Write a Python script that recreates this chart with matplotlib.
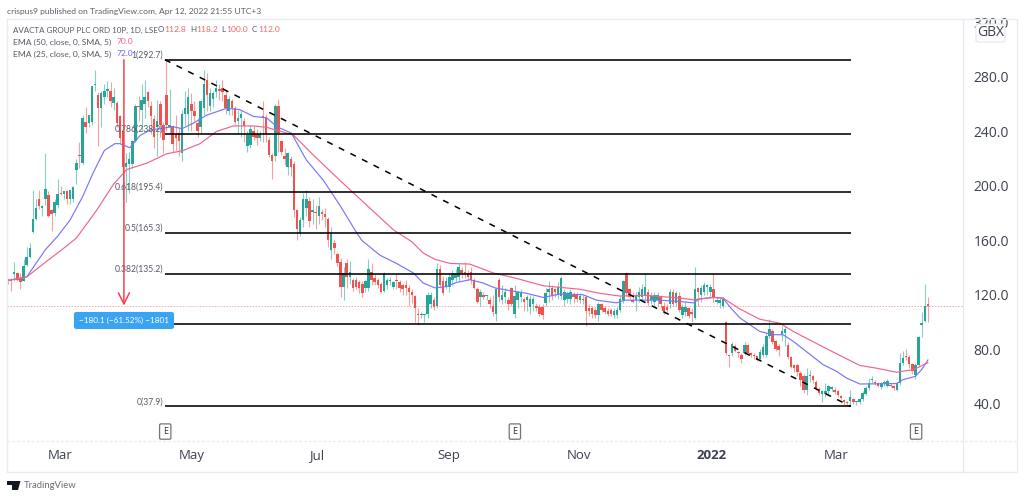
import numpy as np
import matplotlib
matplotlib.use("Agg")
import matplotlib.pyplot as plt
from matplotlib.lines import Line2D
from matplotlib.patches import FancyBboxPatch, Polygon, Rectangle

W, H = 1024, 497
plt.rcParams['font.family'] = ['Open Sans', 'DejaVu Sans']
SMALL = ['Lato', 'DejaVu Sans']

opens = [
    131,131,135,136,132,130,142,148,166,176,
    190,184,190,193,182,180,186,195,194,196,
    190,190,212,223,217,247,246,247,274,267,
    257,265,270,270,261,261,251,240,214,216,
    216,233,259,256,260,269,259,249,243,260,
    245,267,243,244,238,239,224,253,253,260,
    255,246,243,257,278,259,264,269,271,272,
    267,255,262,257,248,250,248,229,230,240,
    238,235,251,250,234,223,222,259,233,222,
    214,220,216,182,165,175,184,189,181,181,
    178,181,179,176,153,158,150,144,
    126,143,133,131,131,129,128,125,125,137,
    132,131,128,123,127,130,126,131,129,127,
    127,125,122,119,106,105,105,106,113,116,
    112,139,130,126,126,131,132,133,138,137,
    136,137,131,124,118,120,119,116,112,106,
    131,116,118,116,125,106,116,118,117,116,
    111,113,112,111,111,114,122,125,124,120,
    119,116,117,117,120,120,116,117,118,110,
    110,109,105,113,110,108,109,105,105,109,
    116,136,124,116,116,118,118,120,122,116,
    115,116,118,112,111,113,122,114,119,
    105,107,110,107,103,125,120,122,126,122,
    124,115,114,112,100,76,77,82,78,76,
    77,83,77,76,75,73,76,76,90,93,
    86,82,91,92,83,74,68,68,62.5,60,
    50,60,60.5,55.6,51,47,47,49,51,50,
    49,45.4,42.4,41,41.7,43,41,41,43,47,
    51.5,57,55.6,55,52,55,53,54,53,50,
    55,70,75,74,69,61,68,98,101,112.8,
]
highs = [
    132,132,144,137,136,146,155,158,197,190,
    197,186,224,196,183,190,205,200,196,197,
    197,200,220,232,252,258,252,273,285,269,
    270,275,277,276,272,262,252,241,224,225,
    234,260,266,275,278,270,262,252,263,262,
    247,292.7,271,245,252,243,256,270,272,268,
    262,250,262,285,283,272,270,278,275,278,
    270,266,264,259,256,256,250,240,245,244,
    242,240,262,253,236,224,260,264,234,228,
    225,222,218,183,177,195,197,192,190,186,
    192,183,184,177,170,160,151,147,
    140,146,145,132,133,131,130,131,146,143,
    135,132,129,137,132,133,130,135,131,128,
    131,127,124,120,110,107,106,122,122,118,
    143,142,134,133,136,138,139,143,140,144,
    138,140,132,126,124,122,120,118,120,125,
    132,127,125,118,126,127,123,124,118,120,
    120,119,114,113,113,125,130,127,125,129,
    134,124,123,124,122,122,121,120,120,113,
    112,111,115,114,112,110,110,110,111,120,
    131,137,125,122,122,126,128,135,124,122,
    122,122,120,115,113,124,124,123,122,
    113,115,111,110,140,126,127,129,128,128,
    135,118,118,118,101,76,85,84,79,77,
    85,84,78,77,76,80,84,92,102,95,
    87,84,97,97,85,75,69,69,64,62,
    66,65,61,57,52,50,55,54,53,52,
    50,46,43,42,50,44,42,44,49,53,
    59,60,57,56,56,57,58,55,54,56,
    77,79,80,76,70,70,90,107,128,118.2,
]
lows = [
    128,123,130,130,124,130,141,147,165,175,
    183,178,186,177,167,178,184,193,190,187,
    187,188,201,213,216,239,243,245,270,229,
    243,260,265,258,256,243,231,190,188,195,
    213,232,248,240,250,258,238,228,222,236,
    224,240,238,225,226,222,218,245,240,240,
    248,236,238,252,255,255,258,265,263,262,
    253,252,252,245,238,236,232,225,228,234,
    230,233,232,232,221,205,218,225,223,215,
    208,207,177,160,163,170,178,170,172,168,
    172,175,170,155,146,150,141,118,
    116,125,128,123,124,121,118,122,123,127,
    127,125,121,122,124,127,124,124,122,120,
    120,112,114,100,98,103,100,103,110,109,
    110,125,120,124,122,127,130,130,132,132,
    131,128,124,114,112,117,116,110,104,101,
    115,113,114,109,112,103,110,115,108,108,
    106,108,108,104,102,112,115,116,118,117,
    117,112,114,113,114,115,114,113,97,104,
    103,103,101,107,106,104,104,103,103,107,
    114,119,116,114,108,115,115,117,112,113,
    112,112,110,106,107,110,112,112,107,
    103,104,103,100,102,112,115,120,120,118,
    115,113,110,110,76,67,75,78,74,70,
    76,76,74,73,71,72,74,74,88,84,
    79,75,86,82,73,66,63,60,53,48,
    46,56,55,50,46,41,45,46,49,47,
    45,43,39,38,38,40,39,40,42,46,
    50,55,54,52,51,53,52,52,50,49,
    54,68,72,66,62,58,67,89,100,100,
]
closes = [
    131,130,137,131,129,141,148,154,176,184,
    185,184,198,178,179,188,194,194,196,190,
    197,199,217,222,250,243,252,273,274,257,
    268,270,271,262,265,246,235,214,217,220,
    233,259,258,263,265,262,251,236,248,245,
    234,245,245,231,235,233,253,257,265,255,
    251,240,262,275,267,268,268,272,270,269,
    257,264,257,247,250,253,244,237,242,236,
    235,238,250,238,223,218,259,239,225,220,
    224,214,182,168,175,190,190,174,182,180,
    185,179,177,160,165,154,143,126,
    136,133,137,125,126,125,121,130,139,131,
    129,127,122,136,131,131,129,130,125,124,
    125,122,120,110,105,106,105,120,120,111,
    139,127,121,130,133,136,136,140,135,135,
    133,131,125,115,122,118,119,113,107,124,
    118,120,122,113,113,119,122,121,115,118,
    117,117,110,106,105,121,124,120,122,126,
    132,122,121,122,118,117,119,116,108,108,
    106,105,113,109,107,106,106,108,109,117,
    130,121,118,115,120,122,124,126,114,119,
    120,120,113,108,109,122,113,121,109,
    111,111,104,106,124,122,125,127,127,126,
    118,116,116,117,77,75,84,79,77,73,
    83,77,76,75,72,78,81.5,90,95,85,
    80,79.5,93,95,74,67,66,63,57,50,
    60,60,57,51.5,48,49,49,53,52,48.6,
    46.6,44,41,40.5,45,41,41,43,48,51.5,
    55,58,55,53,55,56,56.5,53,51.5,55,
    70,73.5,74,69,63.7,68.6,89,99,112,112,
]

ema25_x = [0,6,12,16,20,24,27.5,31,34.4,36,39.2,42.5,45.7,49,53,56,59.6,64,70.4,74.6,
           79,83.2,86.5,91.2,96,101.5,107,111.6,113.8,119.7,125,130.4,133.6,137.4,141.1,144.3,148.6,152.9,156.7,161.5,
           166.9,172.2,177.6,185,189.4,195.8,198.5,209.8,216.2,220.5,222.6,226.9,230.1,232.3,235.5,238.7,241.9,246.2,249.4,252.7,
           255.9,262.3,266.6,269.8,274.1,280.5,285.9,288,292,294,296]
ema25_y = [130.5,133,153,163,175,192,210,226,231,231,228,237,241,242,243.5,242,246,252,257,256,
           251,250,243.5,238.7,219,204,185,167.7,160,149,143,136,128.6,125,126,129,131,128.6,125,123,
           121,118,120.5,120,116,114,116,116,115,114,117,118,117.5,111,103,98,93,90.6,90.6,85.7,
           80,68.6,63.7,58.8,54.4,54.5,54.7,57.6,60,65,72]
ema50_x = [0,6,12.4,17.3,22,28.5,33.9,38.2,44.6,51,56.4,61.8,67.1,72.5,78.9,83.2,91.8,98.2,106.8,124,
           129.9,133.6,137.4,142.2,148.6,156.1,163.6,172.2,184,190.5,196.9,205.5,216.2,220.5,226.9,230.1,235.5,241.9,248.4,252.7,
           262.3,274.1,279.5,285.9,291.3,296]
ema50_y = [130.5,133,144.5,153,161.6,182,201,212,216.6,223.5,226,231,240,244,244,243,237.4,222.7,204,167.7,
           159,150.6,146,143,142.5,136,132,126.6,124,121,119,119.5,117.5,116.3,118,117.5,109.5,102,99,93,
           81.6,68,66,63,65,70]

fib_levels = [292.7, 238.2, 195.4, 165.3, 135.2, 98.7, 37.9]
fib_labels = ['1(292.7)', '0.786(238.2)', '0.618(195.4)', '0.5(165.3)', '0.382(135.2)', '', '0(37.9)']
price_ticks = [40, 80, 120, 160, 200, 240, 280, 320]
month_pos = [16.7, 59.2, 99.4, 141.9, 183.7, 226.5, 266.4]
month_labels = ['Mar', 'May', 'Jul', 'Sep', 'Nov', '2022', 'Mar']
earnings_pos = [50.6, 163.1, 292.2]
last_price = 112.0
measure_x = 37.3

GREEN = '#26a69a'
RED = '#ef5350'
GREY = '#555a66'
FRAME = '#e9ebf1'

fig = plt.figure(figsize=(W / 100, H / 100), dpi=100, facecolor='white')
ax = fig.add_axes([7 / W, 1 - 441 / H, (963 - 7) / W, (441 - 19) / H])
ax.set_xlim(-0.32, 307.3)
ax.set_ylim(12.5, 322.6)
for s in ax.spines.values():
    s.set_visible(False)


def figtext(x, y, s, **kw):
    kw.setdefault('family', SMALL)
    return fig.text(x / W, 1 - y / H, s, va='center', **kw)


x = np.arange(len(opens))
o, h, l, c = map(np.array, (opens, highs, lows, closes))
cols = np.where(c >= o, GREEN, RED)
ax.vlines(x, l, h, colors=cols, lw=0.8, alpha=0.55, zorder=2)
ax.bar(x, np.maximum(np.abs(c - o), 0.9), bottom=np.minimum(o, c), width=0.8, color=cols, lw=0, zorder=3)

ax.plot(ema25_x, ema25_y, color='#7676fa', lw=0.85, zorder=4)
ax.plot(ema50_x, ema50_y, color='#f0648f', lw=0.85, zorder=4)
ax.axhline(last_price, color='#f7a9ab', lw=0.7, ls=(0, (1.5, 1.5)), zorder=1)

# fib retracement and trend line
for lev, lab in zip(fib_levels, fib_labels):
    ax.plot([50.5, 271.2], [lev, lev], color='black', lw=1.15, zorder=5, solid_capstyle='butt')
    ax.text(49.9, lev + 3.4, lab, ha='right', va='center', fontsize=6.2, color=GREY, family=SMALL, zorder=6)
ax.plot([50.5, 271.2], [fib_levels[0], fib_levels[-1]], color='black', lw=1.1, ls=(0, (4, 4.5)), zorder=5)

ax.annotate('', xy=(measure_x, last_price), xytext=(measure_x, fib_levels[0]), zorder=7,
            arrowprops=dict(arrowstyle='->', color='#f0434d', lw=1.1, mutation_scale=20, shrinkA=0, shrinkB=0))

# measure label
fig.add_artist(FancyBboxPatch((75 / W, 1 - 328 / H), 98 / W, 15 / H, boxstyle='round,pad=0,rounding_size=0.002',
                              transform=fig.transFigure, fc='#3ba4f2', ec='#3ba4f2', lw=1.5, zorder=8))
figtext(124, 320.5, '\u2212180.1 (\u221261.52%) \u22121801', ha='center', color='white', fontsize=5.9, zorder=9)

ax.xaxis.tick_bottom()
ax.set_xticks(month_pos)
ax.set_xticklabels(month_labels)
ax.yaxis.tick_right()
ax.set_yticks(price_ticks)
ax.set_yticklabels([f'{p:.1f}' for p in price_ticks])
ax.tick_params(axis='x', length=0, pad=6, labelsize=9.5, labelcolor='#3d4150')
ax.tick_params(axis='y', length=0, pad=7.5, labelsize=10, labelcolor='#3d4150')
ax.get_xticklabels()[5].set_fontweight('bold')

# earnings flags
for e in earnings_pos:
    ax.annotate('E', xy=(e, 0), xycoords=ax.get_xaxis_transform(), xytext=(0, 6.8), textcoords='offset points',
                ha='center', va='center', fontsize=6.5, color='#333',
                bbox=dict(boxstyle='round,pad=0.35,rounding_size=0.15', fc='white', ec='#70747f', lw=0.9))

# frame
fig.add_artist(Rectangle((7 / W, 1 - 472 / H), 1010 / W, 453 / H, transform=fig.transFigure, fc='none', ec=FRAME, lw=1))
fig.add_artist(Line2D([963 / W, 963 / W], [1 - 472 / H, 1 - 19 / H], color=FRAME, lw=1))
fig.add_artist(Line2D([7 / W, 1017 / W], [1 - 441 / H, 1 - 441 / H], color=FRAME, lw=1, ls=(0, (2, 1.5))))

# GBX box
fig.add_artist(FancyBboxPatch((976 / W, 1 - 42 / H), 29 / W, 18 / H, boxstyle='round,pad=0,rounding_size=0.003',
                              transform=fig.transFigure, fc='white', ec='#e4e6ec', lw=0.8, zorder=8))
figtext(990.5, 33, 'GBX', ha='center', fontsize=10, color='#3d4150', family=['Open Sans'], zorder=9)

# header and legend
figtext(7, 11, 'crispus9 published on TradingView.com, Apr 12, 2022 21:55 UTC+3', fontsize=6.1, color='#5d606b')
figtext(13, 30, 'AVACTA GROUP PLC ORD 10P, 1D, LSE', fontsize=5.75, color=GREY)
for px_l, lab, px_v, val in [(158, 'O', 164, '112.8'), (190, 'H', 196, '118.2'), (221, 'L', 226, '100.0'), (252, 'C', 258, '112.0')]:
    figtext(px_l, 30, lab, fontsize=5.75, color=GREY)
    figtext(px_v, 30, val, fontsize=6.1, color='#ef6a6c')
figtext(13, 42, 'EMA (50, close, 0, SMA, 5)', fontsize=6.1, color=GREY)
figtext(117, 42, '70.0', fontsize=6.1, color='#f0648f')
figtext(13, 54, 'EMA (25, close, 0, SMA, 5)', fontsize=6.1, color=GREY)
figtext(117, 54, '72.0', fontsize=6.1, color='#6a6af5')

# logo
logo = [[(7, 481), (16, 481), (16, 490), (12, 490), (12, 485), (7, 485)],
        [(15.5, 481), (20.5, 481), (18, 490), (15.5, 490)]]
for pts in logo:
    fig.add_artist(Polygon([(a / W, 1 - b / H) for a, b in pts], transform=fig.transFigure, fc='#131722', lw=0))
figtext(24, 485, 'TradingView', fontsize=6.8, color='#6a6d78')

fig.savefig('out.png', dpi=100)
